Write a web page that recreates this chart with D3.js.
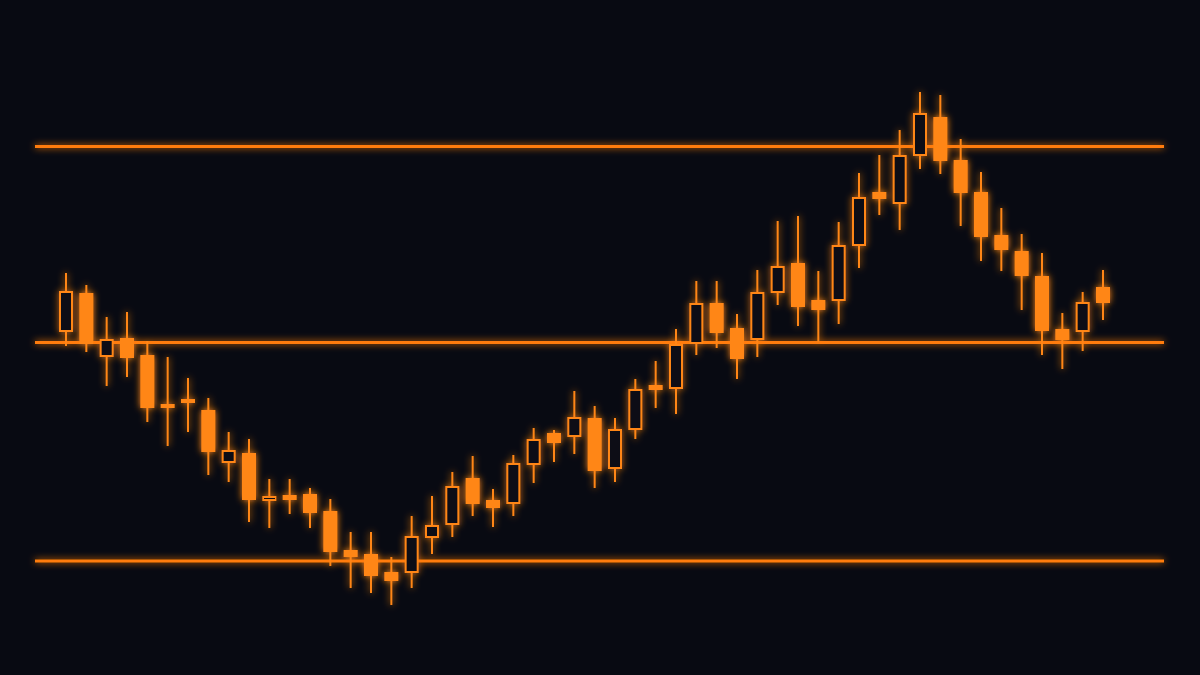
<!DOCTYPE html>
<html><head><meta charset="utf-8">
<script src="https://cdn.jsdelivr.net/npm/d3@7"></script>
<style>html,body{margin:0;padding:0;background:#080a12;}svg{display:block;}</style>
</head><body>
<script>
const opens  = [66.8,70.7,64.3,66.2,64.5,59.2,60.1,59.0,53.7,54.7,49.9,50.5,50.6,48.9,45.0,44.6,42.8,42.7,46.2,47.5,52.2,50.0,49.6,53.5,56.7,56.3,58.2,53.1,57.0,61.5,61.1,65.6,69.7,67.2,66.0,70.7,73.7,70.0,69.9,75.4,80.8,79.6,84.4,88.3,84.0,80.8,76.5,74.9,72.4,67.1,66.8,71.3];
const highs  = [72.7,71.5,68.3,68.8,65.9,64.3,62.2,60.2,56.8,56.1,52.1,52.1,51.2,50.1,46.8,46.8,44.3,48.4,50.4,52.8,54.4,51.1,54.5,57.2,57.0,60.9,59.4,58.2,62.1,63.9,67.1,71.9,71.9,68.6,73.0,77.9,78.4,72.9,77.8,82.7,84.5,87.0,90.8,90.5,86.1,82.8,79.2,76.6,74.7,68.7,70.8,73.0];
const lows   = [65.4,64.8,61.4,62.3,57.8,55.4,56.8,52.5,51.8,47.8,47.2,48.6,47.2,43.4,41.2,40.7,39.5,41.2,44.6,46.3,48.4,47.3,48.4,51.7,53.8,54.6,51.2,51.8,56.1,59.2,58.6,64.5,65.2,62.1,64.3,69.5,67.4,65.8,67.6,73.2,78.5,77.0,83.1,82.6,77.4,73.9,72.9,69.0,64.5,63.1,64.9,68.0];
const closes = [70.9,65.6,66.1,64.2,59.2,59.6,59.7,54.8,55.0,50.0,50.4,50.0,48.7,44.8,44.3,42.4,41.9,46.4,47.5,51.4,49.6,49.2,53.7,56.1,55.7,58.3,52.9,57.1,61.1,61.0,65.6,69.7,66.7,64.1,70.8,73.4,69.3,69.0,75.5,80.3,80.1,84.5,88.7,83.9,80.7,76.3,75.0,72.4,66.9,66.0,69.8,69.7];
const levels = [85.35, 65.75, 43.9];

const W = 1200, H = 675;
const bg = "#080a12", orange = "#ff8616", lineCol = "#ff7c0c";
const svg = d3.select("body").append("svg").attr("width", W).attr("height", H);
svg.append("rect").attr("width", W).attr("height", H).attr("fill", bg);

const defs = svg.append("defs");
const f = defs.append("filter").attr("id","glow").attr("x","-50%").attr("y","-50%").attr("width","200%").attr("height","200%");
f.append("feGaussianBlur").attr("in","SourceGraphic").attr("stdDeviation",3.5).attr("result","b");
const m = f.append("feMerge");
m.append("feMergeNode").attr("in","b");
m.append("feMergeNode").attr("in","SourceGraphic");

const idx = d3.range(opens.length);
const x = d3.scaleLinear().domain([0, opens.length - 1]).range([66, 1103]);
const y = d3.scaleLinear().domain([40, 90]).range([600, 100]);

const g = svg.append("g").attr("filter","url(#glow)");

g.selectAll("line.level").data(levels).enter().append("line")
  .attr("x1", 35).attr("x2", 1164)
  .attr("y1", d => y(d)).attr("y2", d => y(d))
  .attr("stroke", lineCol).attr("stroke-width", 3);

const c = g.selectAll("g.c").data(idx).enter().append("g");
c.append("line")
  .attr("x1", i => x(i)).attr("x2", i => x(i))
  .attr("y1", i => y(highs[i])).attr("y2", i => y(lows[i]))
  .attr("stroke", orange).attr("stroke-width", 2);
c.each(function(i){
  const up = closes[i] > opens[i];
  const top = y(Math.max(opens[i], closes[i])), bot = y(Math.min(opens[i], closes[i]));
  const sel = d3.select(this);
  if (up) {
    sel.append("rect").attr("x", x(i) - 6).attr("y", top + 1).attr("width", 12).attr("height", Math.max(bot - top - 2, 1))
      .attr("fill", bg).attr("stroke", orange).attr("stroke-width", 2);
  } else {
    sel.append("rect").attr("x", x(i) - 7).attr("y", top).attr("width", 14).attr("height", Math.max(bot - top, 3))
      .attr("fill", orange);
  }
});
</script>
</body></html>
